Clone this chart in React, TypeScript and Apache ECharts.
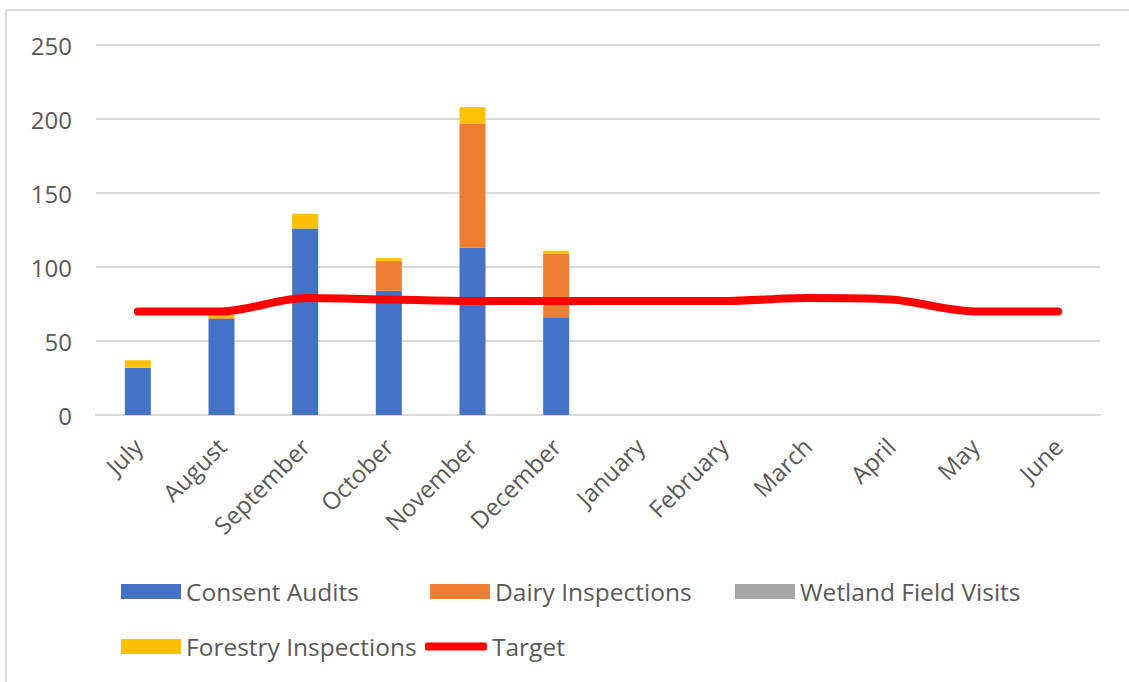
import React, { useEffect, useRef } from "react";
import * as echarts from "echarts";

const months = ["July","August","September","October","November","December","January","February","March","April","May","June"];
const consentAudits = [32, 65, 126, 84, 113, 66, null, null, null, null, null, null];
const dairyInspections = [0, 1, 0, 20, 84, 43, null, null, null, null, null, null];
const wetlandFieldVisits = [0, 0, 0, 0, 0, 0, null, null, null, null, null, null];
const forestryInspections = [5, 2, 10, 2, 11, 2, null, null, null, null, null, null];
const target = [70, 70, 79, 78, 77, 77, 77, 77, 79, 78, 70, 70];
const yTicks = { min: 0, max: 250, interval: 50 };

const FONT = "'Open Sans', sans-serif";
const TXT = "#595959";

export default function App() {
  const ref = useRef<HTMLDivElement>(null);
  useEffect(() => {
    if (!ref.current) return;
    const chart = echarts.init(ref.current, null, { renderer: "svg" });
    const legendText = { color: TXT, fontFamily: FONT, fontSize: 24.5 };
    const mkLegend = (name: string, left: number, top: number, extra: any = {}) => ({
      data: [name],
      left,
      top,
      orient: "horizontal",
      itemWidth: 60,
      itemHeight: 15,
      icon: "rect",
      textStyle: legendText,
      selectedMode: false,
      padding: 0,
      ...extra,
    });
    chart.setOption({
      animation: false,
      backgroundColor: "#ffffff",
      textStyle: { fontFamily: FONT },
      grid: { left: 96, right: 29, top: 45, bottom: 267, containLabel: false },
      legend: [
        mkLegend("Consent Audits", 121, 579),
        mkLegend("Dairy Inspections", 430, 579),
        mkLegend("Wetland Field Visits", 735, 579),
        mkLegend("Forestry Inspections", 121, 634),
        mkLegend("Target", 425, 634, { icon: "roundRect", itemHeight: 8, itemWidth: 62 }),
      ],
      graphic: [
        { type: "line", shape: { x1: 6, y1: 10, x2: 1129, y2: 10 }, style: { stroke: "#d9d9d9", lineWidth: 2 } },
        { type: "line", shape: { x1: 6, y1: 10, x2: 6, y2: 682 }, style: { stroke: "#d9d9d9", lineWidth: 2 } },
      ],
      xAxis: {
        type: "category",
        data: months,
        axisTick: { show: false },
        axisLine: { show: true, lineStyle: { color: "#d9d9d9", width: 2 } },
        axisLabel: { rotate: 45, color: TXT, fontFamily: FONT, fontSize: 24, margin: 27, interval: 0 },
      },
      yAxis: {
        type: "value",
        min: yTicks.min,
        max: yTicks.max,
        interval: yTicks.interval,
        axisLine: { show: false },
        axisTick: { show: false },
        splitLine: { lineStyle: { color: "#d9d9d9", width: 2 } },
        axisLabel: { color: TXT, fontFamily: FONT, fontSize: 24, margin: 24 },
      },
      series: [
        { name: "Consent Audits", type: "bar", stack: "s", data: consentAudits, barWidth: 26, itemStyle: { color: "#4472C4" } },
        { name: "Dairy Inspections", type: "bar", stack: "s", data: dairyInspections, barWidth: 26, itemStyle: { color: "#ED7D31" } },
        { name: "Wetland Field Visits", type: "bar", stack: "s", data: wetlandFieldVisits, barWidth: 26, itemStyle: { color: "#A5A5A5" } },
        { name: "Forestry Inspections", type: "bar", stack: "s", data: forestryInspections, barWidth: 26, itemStyle: { color: "#FFC000" } },
        {
          name: "Target",
          type: "line",
          data: target,
          smooth: 0.3,
          symbol: "none",
          z: 5,
          lineStyle: { color: "#FF0000", width: 8, cap: "round", join: "round" },
          itemStyle: { color: "#FF0000" },
        },
      ],
    });
    return () => chart.dispose();
  }, []);
  return <div ref={ref} style={{ position: "absolute", left: 0, top: 0, width: 1129, height: 682 }} />;
}
